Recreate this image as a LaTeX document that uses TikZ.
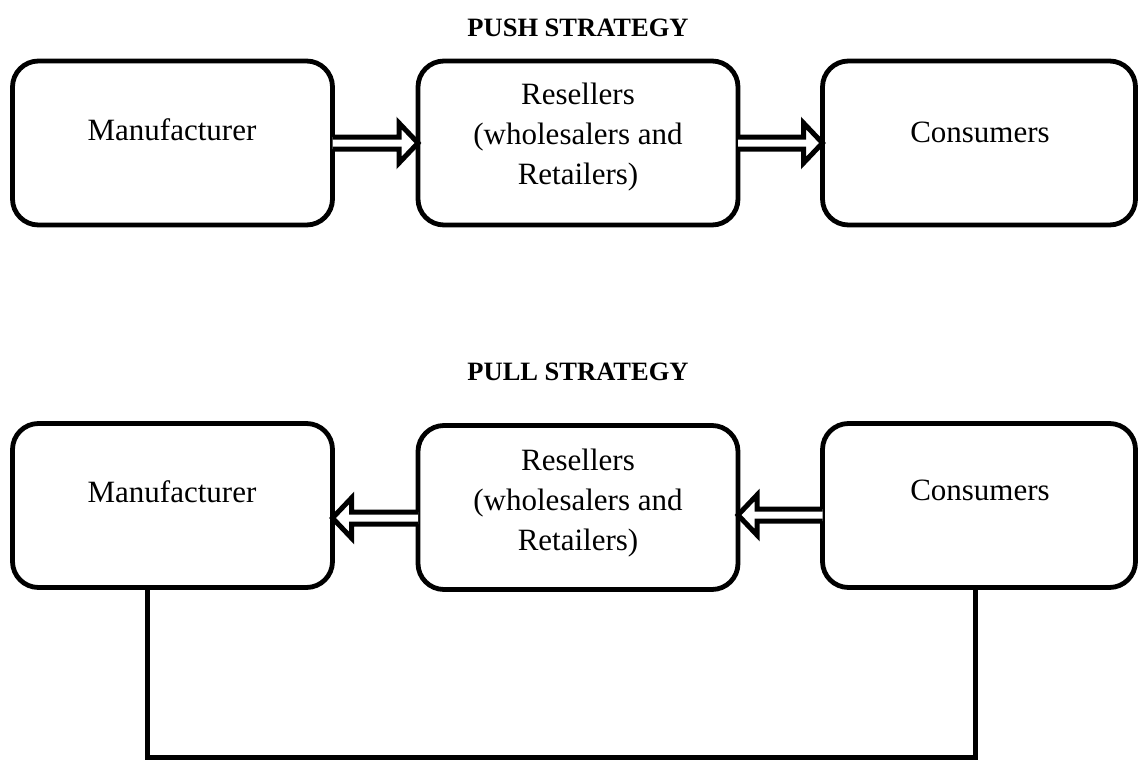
\documentclass[tikz,border=0pt]{standalone}
\usepackage{fontspec}
\setmainfont{Liberation Serif}
\usetikzlibrary{calc}
\tikzset{
  box/.style={draw, line width=4.8pt, rounded corners=26pt, inner sep=0pt, outer sep=0pt, minimum width=320pt, minimum height=164pt},
  txt/.style={font=\fontsize{31}{40}\selectfont, align=center, inner sep=0pt},
  ttl/.style={font=\fontsize{26.5}{30}\selectfont\bfseries, inner sep=0pt},
  arrowline/.style={draw, line width=5pt, fill=white, miter limit=20},
  conn/.style={draw, line width=5pt}
}
\newcommand\blockarrow[3]{%
  \draw[arrowline] ($(#1)+(0,6)$) -- ($(#2)+(-19*#3,6)$) -- ($(#2)+(-19*#3,20)$) -- (#2)
   -- ($(#2)+(-19*#3,-20)$) -- ($(#2)+(-19*#3,-6)$) -- ($(#1)+(0,-6)$);}
\begin{document}
\begin{tikzpicture}[x=1pt,y=-1pt]
\useasboundingbox (0,0) rectangle (1140,760);
% titles
\node[ttl] (t1) at (578,28) {PUSH STRATEGY};
\node[ttl] (t2) at (578,372) {PULL STRATEGY};
% push row
\node[box] (m1) at (172.5,143) {};
\node[box] (r1) at (578,143) {};
\node[box, minimum width=313pt] (c1) at (979,143) {};
\node[txt] (m1t) at (172,130) {Manufacturer};
\node[txt] (r1t) at (578,137) {Resellers\\(wholesalers and\\Retailers)};
\node[txt] (c1t) at (980,132) {Consumers};
% pull row
\node[box] (m2) at (172.5,505.5) {};
\node[box] (r2) at (578,507.5) {};
\node[box, minimum width=313pt] (c2) at (979,505.5) {};
\node[txt] (m2t) at (172,492) {Manufacturer};
\node[txt] (r2t) at (578,503) {Resellers\\(wholesalers and\\Retailers)};
\node[txt] (c2t) at (980,490) {Consumers};
% push arrows
\blockarrow{m1.east}{r1.west}{1}
\blockarrow{r1.east}{c1.west}{1}
% pull arrows
\coordinate (p1s) at ($(r2.west)+(0,10.5)$);
\coordinate (p1e) at ($(m2.east)+(0,12.5)$);
\blockarrow{p1s}{p1e}{-1}
\coordinate (p2s) at ($(c2.west)+(0,9.5)$);
\coordinate (p2e) at ($(r2.east)+(0,7.5)$);
\blockarrow{p2s}{p2e}{-1}
% feedback connector
\coordinate (b1) at (147,757);
\coordinate (b2) at (975,757);
\draw[conn] (m2.south -| b1) -- (b1) -- (b2) -- (c2.south -| b2);
\end{tikzpicture}
\end{document}
